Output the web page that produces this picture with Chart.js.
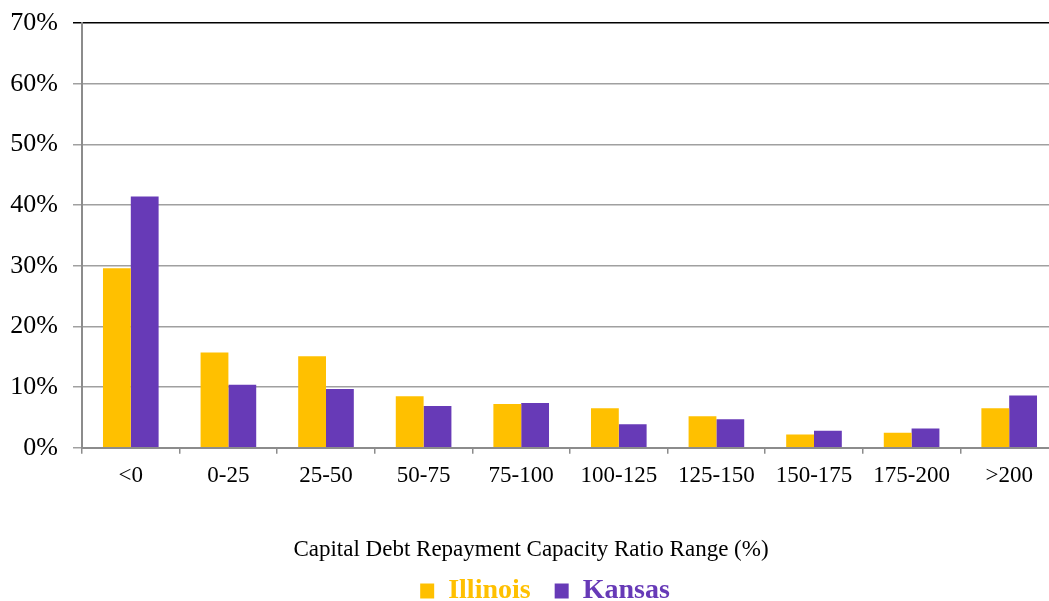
<!DOCTYPE html>
<html>
<head>
<meta charset="utf-8">
<script src="https://cdn.jsdelivr.net/npm/chart.js@4.4.1/dist/chart.umd.min.js"></script>
<style>
  html, body { margin: 0; padding: 0; background: #fff; overflow: hidden; }
  #wrap { width: 1062px; height: 615px; position: relative; }
</style>
</head>
<body>
<div id="wrap"><canvas id="c"></canvas></div>
<script>
const categories = ['<0', '0-25', '25-50', '50-75', '75-100', '100-125', '125-150', '150-175', '175-200', '>200'];
const illinois = [29.6, 15.7, 15.1, 8.5, 7.2, 6.5, 5.2, 2.2, 2.5, 6.5];
const kansas   = [41.4, 10.4, 9.7, 6.9, 7.4, 3.9, 4.7, 2.8, 3.2, 8.6];
const yTicks = [0, 10, 20, 30, 40, 50, 60, 70];
const xTitle = 'Capital Debt Repayment Capacity Ratio Range (%)';

const serif = "'Liberation Serif', 'Times New Roman', serif";

// small style nudge: move the legend a little to the right, as in the original
const legendNudge = {
  id: 'legendNudge',
  afterLayout(chart) {
    const lg = chart.legend;
    if (lg) { lg.left += 14; lg.right += 14; }
  }
};

new Chart(document.getElementById('c'), {
  type: 'bar',
  data: {
    labels: categories,
    datasets: [
      { label: 'Illinois', data: illinois, backgroundColor: '#FFC000', borderWidth: 0 },
      { label: 'Kansas', data: kansas, backgroundColor: '#673AB7', borderWidth: 0 }
    ]
  },
  plugins: [legendNudge],
  options: {
    responsive: true,
    maintainAspectRatio: false,
    animation: false,
    layout: { padding: { left: 4, right: 4, top: 23, bottom: 0 } },
    datasets: { bar: { categoryPercentage: 0.57, barPercentage: 1.0 } },
    scales: {
      x: {
        grid: { display: true, offset: true, drawOnChartArea: false, drawTicks: true, tickLength: 6, color: '#8c8c8c', lineWidth: 1.5 },
        border: { display: true, color: '#8c8c8c', width: 2 },
        ticks: { color: '#000', font: { family: serif, size: 23 }, padding: 8, maxRotation: 0 }
      },
      y: {
        min: 0, max: 70,
        afterBuildTicks: (axis) => { axis.ticks = yTicks.map(v => ({ value: v })); },
        afterFit: (axis) => { axis.width = 78; axis.paddingTop = 0; axis.paddingBottom = 0; },
        grid: {
          color: (ctx) => (ctx.tick && ctx.tick.value === 70) ? '#000' : '#a0a0a0',
          lineWidth: 1.5,
          tickLength: 9,
          drawTicks: true
        },
        border: { display: true, color: '#8c8c8c', width: 2 },
        ticks: { color: '#000', font: { family: serif, size: 26 }, padding: 15, callback: (v) => v + '%' }
      }
    },
    plugins: {
      title: {
        display: true, position: 'bottom', text: xTitle, color: '#000',
        font: { family: serif, size: 23, weight: 'normal' },
        padding: { top: 39, bottom: -11 },
        weight: 500
      },
      legend: {
        display: true, position: 'bottom', weight: 3000,
        onClick: null,
        labels: {
          font: { family: serif, size: 28, weight: 'bold' },
          boxWidth: 14, boxHeight: 15, padding: 24,
          generateLabels: (chart) => chart.data.datasets.map((ds, i) => ({
            text: ds.label, fillStyle: ds.backgroundColor, strokeStyle: ds.backgroundColor,
            lineWidth: 0, fontColor: ds.backgroundColor, datasetIndex: i, hidden: false
          }))
        }
      },
      tooltip: { enabled: false }
    }
  }
});
</script>
</body>
</html>
